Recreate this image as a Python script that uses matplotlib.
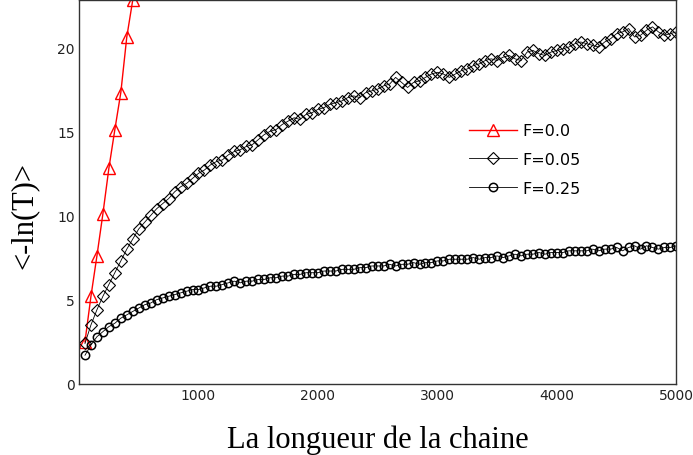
import numpy as np
import matplotlib
matplotlib.use("Agg")
import matplotlib.pyplot as plt

# chain length sampled every 50 sites
L_f0 = [50, 100, 150, 200, 250, 300, 350, 400, 450]
T_f0 = [2.5, 5.2, 7.6, 10.1, 12.8, 15.1, 17.3, 20.6, 22.8]

L = list(range(50, 5001, 50))

T_f005 = [
    2.4, 3.5, 4.4, 5.2, 5.9, 6.6, 7.3, 8.0, 8.6, 9.2,
    9.6, 10.0, 10.4, 10.7, 11.0, 11.4, 11.7, 11.9, 12.2, 12.5,
    12.7, 13.0, 13.2, 13.3, 13.6, 13.8, 13.9, 14.1, 14.2, 14.5,
    14.8, 15.0, 15.1, 15.4, 15.6, 15.8, 15.7, 16.0, 16.1, 16.3,
    16.4, 16.6, 16.7, 16.8, 17.0, 17.1, 17.0, 17.3, 17.4, 17.5,
    17.7, 17.8, 18.2, 17.9, 17.6, 17.9, 18.0, 18.2, 18.4, 18.5,
    18.4, 18.2, 18.4, 18.6, 18.7, 18.9, 19.0, 19.2, 19.3, 19.2,
    19.4, 19.5, 19.3, 19.2, 19.7, 19.8, 19.6, 19.5, 19.7, 19.8,
    19.9, 20.0, 20.2, 20.3, 20.2, 20.1, 20.0, 20.3, 20.5, 20.8,
    20.9, 21.1, 20.6, 20.7, 21.0, 21.2, 20.9, 20.7, 20.8, 20.9,
]

T_f025 = [
    1.7, 2.3, 2.8, 3.1, 3.4, 3.6, 3.9, 4.1, 4.3, 4.5,
    4.7, 4.8, 5.0, 5.1, 5.2, 5.3, 5.4, 5.5, 5.6, 5.6,
    5.7, 5.8, 5.8, 5.9, 6.0, 6.1, 6.0, 6.1, 6.1, 6.2,
    6.2, 6.3, 6.3, 6.4, 6.4, 6.5, 6.5, 6.6, 6.6, 6.6,
    6.7, 6.7, 6.7, 6.8, 6.8, 6.8, 6.9, 6.9, 7.0, 7.0,
    7.0, 7.1, 7.0, 7.1, 7.1, 7.2, 7.1, 7.2, 7.2, 7.3,
    7.3, 7.4, 7.4, 7.4, 7.4, 7.5, 7.4, 7.5, 7.5, 7.6,
    7.5, 7.6, 7.7, 7.6, 7.7, 7.7, 7.8, 7.7, 7.8, 7.8,
    7.8, 7.9, 7.9, 7.9, 7.9, 8.0, 7.9, 8.0, 8.0, 8.1,
    7.9, 8.1, 8.2, 8.0, 8.2, 8.1, 8.0, 8.1, 8.1, 8.2,
]

x_ticks = [1000, 2000, 3000, 4000, 5000]
y_ticks = [0, 5, 10, 15, 20]

fig = plt.figure(figsize=(6.93, 4.56), dpi=100)
ax = fig.add_axes([0.114, 0.156, 0.862, 0.842])

ax.plot(L_f0, T_f0, color="red", lw=1.0, marker="^", ms=8,
        mfc="none", mec="red", mew=1.0, label="F=0.0")
ax.plot(L, T_f005, color="black", lw=0.6, marker="D", ms=6,
        mfc="none", mec="black", mew=0.8, label="F=0.05")
ax.plot(L, T_f025, color="black", lw=0.6, marker="o", ms=6,
        mfc="none", mec="black", mew=1.1, label="F=0.25")

ax.set_xlim(0, 5000)
ax.set_ylim(0, 22.8)
ax.set_xticks(x_ticks)
ax.set_yticks(y_ticks)
ax.tick_params(length=0, labelsize=10, colors="#222222", pad=3)
for s in ax.spines.values():
    s.set_linewidth(1.0)
    s.set_color("#333333")

serif = ["Liberation Serif", "DejaVu Serif"]
ax.set_xlabel("La longueur de la chaine", family=serif, fontsize=22, labelpad=16)
ax.set_ylabel("<-ln(T)>", family=serif, fontsize=22)
ax.yaxis.set_label_coords(-0.068, 0.44)

ax.legend(loc="upper left", bbox_to_anchor=(0.643, 0.695), frameon=False,
          handlelength=3.0, handletextpad=0.3, labelspacing=0.85, fontsize=11.5,
          borderaxespad=0)

fig.savefig("out.png", dpi=100)
